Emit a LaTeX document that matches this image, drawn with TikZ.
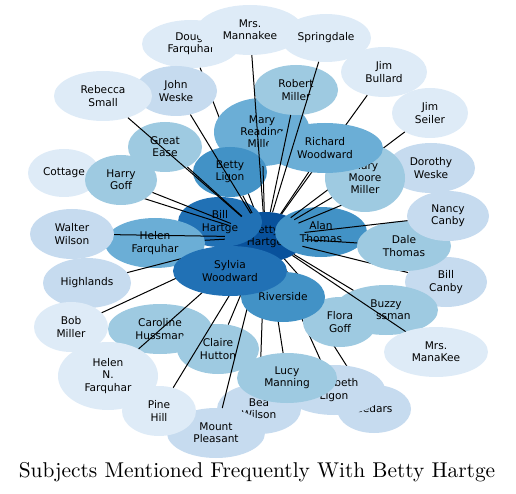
\documentclass[tikz,border=0pt]{standalone}
\usepackage{fontspec}
\usepackage{graphicx}
\usetikzlibrary{shapes.geometric}
\newfontfamily\bubfont{DejaVu Sans}
\definecolor{cA}{HTML}{DEEBF7}
\definecolor{cB}{HTML}{C6DBEF}
\definecolor{cC}{HTML}{9ECAE1}
\definecolor{cD}{HTML}{6BAED6}
\definecolor{cE}{HTML}{4292C6}
\definecolor{cF}{HTML}{2171B5}
\definecolor{cG}{HTML}{08519C}
\tikzset{
  bub/.style n args={3}{ellipse, fill=#1, draw=none, minimum width=#2, minimum height=#3,
    inner sep=0pt, align=center, text=black,
    font=\bubfont\fontsize{10.6}{12.2}\selectfont},
  link/.style={draw=black, line width=1pt}
}
\begin{document}
\begin{tikzpicture}[x=1pt,y=-1pt]
\useasboundingbox (0,0) rectangle (516,494);
% hub
\node[bub={cG}{80pt}{50pt}] (betty) at (265,237) {Betty\\Hartge};
\node[bub={cE}{92pt}{50pt}] (alan) at (321,232) {Alan\\Thomas};
% back layer
\node[bub={cA}{98pt}{48pt}] (doug) at (191,44) {Doug.\\Farquhar};
\node[bub={cA}{106pt}{50pt}] (mannakee) at (250,30) {Mrs.\\Mannakee};
\node[bub={cA}{90pt}{48pt}] (springdale) at (326,38) {Springdale};
\node[bub={cA}{86pt}{50pt}] (bullard) at (384,72) {Jim\\Bullard};
\node[bub={cA}{76pt}{50pt}] (seiler) at (430,113) {Jim\\Seiler};
\node[bub={cB}{88pt}{50pt}] (dorothy) at (431,168) {Dorothy\\Weske};
\node[bub={cB}{82pt}{50pt}] (canby) at (446,282) {Bill\\Canby};
\node[bub={cA}{72pt}{48pt}] (cottage) at (64,173) {Cottage};
\draw[link] (betty) -- (doug);
\draw[link] (betty) -- (bullard);
\draw[link] (betty) -- (seiler);
\draw[link] (betty) -- (dorothy);
\draw[link] (betty) -- (canby);
% upper middle
\node[bub={cB}{82pt}{50pt}] (johnw) at (176,91) {John\\Weske};
\node[bub={cA}{98pt}{50pt}] (rebecca) at (103,96) {Rebecca\\Small};
\node[bub={cD}{96pt}{68pt}] (maryr) at (262,132) {Mary\\Reading\\Miller};
\node[bub={cC}{84pt}{50pt}] (robert) at (296,90) {Robert\\Miller};
\node[bub={cC}{74pt}{50pt}] (greatease) at (165,147) {Great\\Ease};
\node[bub={cE}{74pt}{50pt}] (bligon) at (230,172) {Betty\\Ligon};
\node[bub={cC}{80pt}{68pt}] (marym) at (365,178) {Mary\\Moore\\Miller};
\node[bub={cD}{116pt}{50pt}] (richard) at (325,148) {Richard\\Woodward};
% left middle
\node[bub={cF}{84pt}{50pt}] (billh) at (220,222) {Bill\\Hartge};
\node[bub={cD}{100pt}{50pt}] (helenf) at (155,243) {Helen\\Farquhar};
\node[bub={cB}{84pt}{50pt}] (walter) at (72,234) {Walter\\Wilson};
\draw[link] (betty) -- (cottage);
\node[bub={cC}{72pt}{50pt}] (harry) at (121,180) {Harry\\Goff};
\draw[link] (betty) -- (harry);
\draw[link] (betty) -- (greatease);
\draw[link] (betty) -- (rebecca);
\draw[link] (betty) -- (walter);
\draw[link] (betty) -- (helenf);
\draw[link] (betty) -- (johnw);
\draw[link] (betty) -- (bligon);
\draw[link] (betty) -- (maryr);
\draw[link] (betty) -- (richard);
\draw[link] (betty) -- (marym);
\draw[link] (betty) -- (mannakee);
\draw[link] (betty) -- (springdale);
\draw[link] (betty) -- (robert);
% lower left
\node[bub={cB}{88pt}{50pt}] (highlands) at (87,283) {Highlands};
\node[bub={cA}{74pt}{50pt}] (bob) at (71,327) {Bob\\Miller};
\node[bub={cC}{104pt}{50pt}] (caroline) at (160,329) {Caroline\\Hussman};
\node[bub={cC}{82pt}{50pt}] (claire) at (218,349) {Claire\\Hutton};
\node[bub={cA}{100pt}{68pt}] (helenn) at (108,376) {Helen\\N.\\Farquhar};
\node[bub={cB}{84pt}{50pt}] (bea) at (259,409) {Bea\\Wilson};
\node[bub={cB}{98pt}{50pt}] (mount) at (216,433) {Mount\\Pleasant};
\node[bub={cA}{74pt}{50pt}] (pine) at (159,411) {Pine\\Hill};
\draw[link] (betty) -- (highlands);
\draw[link] (betty) -- (bob);
\draw[link] (betty) -- (helenn);
\draw[link] (betty) -- (pine);
\draw[link] (betty) -- (claire);
\draw[link] (betty) -- (mount);
% lower right
\node[bub={cB}{74pt}{48pt}] (cedars) at (374,409) {Cedars};
\draw[link] (betty) -- (cedars);
\node[bub={cB}{102pt}{50pt}] (eliz) at (334,390) {Elizabeth\\Ligon};
\draw[link] (betty) -- (eliz);
\draw[link] (betty) -- (bea);
\node[bub={cC}{104pt}{50pt}] (buzzy) at (386,310) {Buzzy\\Hussman};
\node[bub={cC}{74pt}{50pt}] (flora) at (340,322) {Flora\\Goff};
\node[bub={cA}{104pt}{50pt}] (manakee) at (436,352) {Mrs.\\ManaKee};
\draw[link] (betty) -- (flora);
\draw[link] (betty) -- (buzzy);
\draw[link] (betty) -- (manakee);
\node[bub={cC}{94pt}{50pt}] (dale) at (404,246) {Dale\\Thomas};
\node[bub={cB}{82pt}{50pt}] (nancy) at (448,216) {Nancy\\Canby};
\draw[link] (betty) -- (dale);
\draw[link] (betty) -- (nancy);
\node[bub={cC}{100pt}{50pt}] (lucy) at (287,378) {Lucy\\Manning};
\draw[link] (betty) -- (lucy);
\node[bub={cE}{84pt}{50pt}] (riverside) at (283,297) {Riverside};
\draw[link] (betty) -- (riverside);
\node[bub={cF}{114pt}{50pt}] (sylvia) at (230,271) {Sylvia\\Woodward};
% title
\node[inner sep=0pt] (title) at (257,472) {\scalebox{2.14}{Subjects Mentioned Frequently With Betty Hartge}};
\end{tikzpicture}
\end{document}
